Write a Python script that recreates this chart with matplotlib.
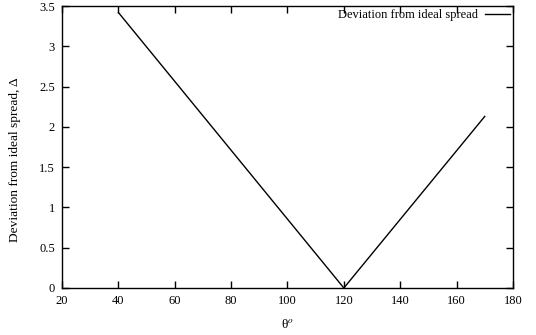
import matplotlib

matplotlib.use("Agg")

import matplotlib.pyplot as plt

# data
theta = [40, 120, 170]
delta = [3.42, 0.0, 2.13]
x_ticks = [20, 40, 60, 80, 100, 120, 140, 160, 180]
y_ticks = [0, 0.5, 1, 1.5, 2, 2.5, 3, 3.5]
y_tick_labels = ["0", "0.5", "1", "1.5", "2", "2.5", "3", "3.5"]

plt.rcParams["font.family"] = ["Liberation Serif", "DejaVu Serif"]
plt.rcParams["mathtext.fontset"] = "stix"

fig = plt.figure(figsize=(5.36, 3.35), dpi=100)
ax = fig.add_axes([0.1157, 0.1403, 0.957 - 0.1157, 0.982 - 0.1403])

ax.plot(theta, delta, color="black", lw=1.0, label="Deviation from ideal spread")

ax.set_xlim(20, 180)
ax.set_ylim(0, 3.5)
ax.set_xticks(x_ticks)
ax.set_yticks(y_ticks)
ax.set_yticklabels(y_tick_labels)
ax.tick_params(direction="in", top=True, right=True, length=5, width=1.0,
               labelsize=9, pad=5)
for sp in ax.spines.values():
    sp.set_linewidth(1.0)

ax.set_xlabel(r"θ$^{o}$", fontsize=9.5, labelpad=8)
ax.set_ylabel("Deviation from ideal spread, Δ", fontsize=9.6)
ax.yaxis.set_label_coords(-0.09, 0.454)

leg = ax.legend(loc="upper right", frameon=False, fontsize=9, markerfirst=False,
                handlelength=2.0, handletextpad=0.56, borderaxespad=0.0,
                borderpad=0.24)

fig.savefig("out.png", dpi=100)
